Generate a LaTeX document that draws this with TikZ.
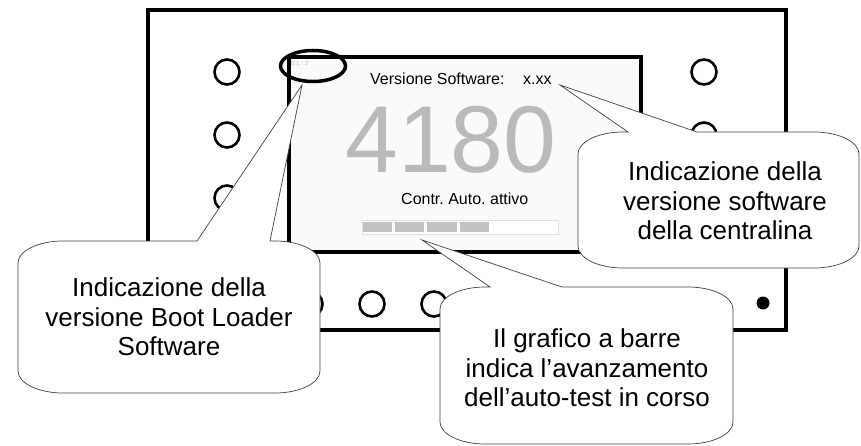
\documentclass[tikz,border=0pt]{standalone}
\usepackage{fontspec}
\setmainfont{Liberation Sans}
\usetikzlibrary{shapes,positioning}
\frenchspacing

\begin{document}
\begin{tikzpicture}[x=1pt, y=-1pt,
  knob/.style={circle, draw, line width=2.6pt, minimum size=25pt, inner sep=0pt},
  bubble/.style={draw=black!75, line width=0.7pt, fill=white},
  note/.style={font=\fontsize{26}{29.5}\selectfont, align=center},
  lcd/.style={font=\fontsize{16}{19}\selectfont, anchor=base west, inner sep=0pt},
  seg/.style={fill=black!24}
]
  \useasboundingbox (0,0) rectangle (861,446);
  % Panel
  \draw[line width=4.5pt] (148,10) rectangle (786,330);
  % Buttons
  \node[knob] (l1) at (227,72) {};
  \node[knob] (l2) at (227,135) {};
  \node[knob] (l3) at (227,198) {};
  \node[knob] (r1) at (704,72) {};
  \node[knob] (r2) at (704,135) {};
  \node[knob] (b1) at (310,304) {};
  \node[knob] (b2) at (372,304) {};
  \node[knob] (b3) at (434,304) {};
  \node[circle, fill, minimum size=13pt, inner sep=0pt] (led) at (763,303) {};
  % Screen
  \draw[line width=3.5pt, fill=black!2] (289,57) rectangle (641,252);
  \node[lcd, font=\fontsize{6}{7}\selectfont, text=black!25] (bl) at (291,66) {B L : 2};
  \node[lcd] (title) at (370,85) {Versione Software:};
  \node[lcd] (ver) at (523,85) {x.xx};
  \node[font=\fontsize{95}{95}\selectfont, text=black!27, anchor=base, inner sep=0pt] (count) at (451,173) {4180};
  \node[lcd] (status) at (401,205) {Contr. Auto. attivo};
  % Bar graph
  \draw[black!12, fill=white] (362,220) rectangle (558,234);
  \fill[seg] (363,222) rectangle (392,232);
  \fill[seg] (395,222) rectangle (424,232);
  \fill[seg] (427,222) rectangle (457,232);
  \fill[seg] (460,222) rectangle (489,232);
  % Boot loader mark
  \node[ellipse, draw, line width=3.5pt, minimum width=65pt, minimum height=31pt] (blmark) at (313,66) {};
  \coordinate (bltip) at (302,85);
  \coordinate (swtip) at (560,85);
  \coordinate (bartip) at (422,240);
  % Callout boot loader
  \draw[bubble] (63,241) -- (197,241) -- (bltip) -- (270,241) -- (275,241)
    .. controls (300,241) and (320,251) .. (320,263) -- (320,371)
    .. controls (320,383) and (300,393) .. (275,393) -- (63,393)
    .. controls (38,393) and (18,383) .. (18,371) -- (18,263)
    .. controls (18,251) and (38,241) .. (63,241) -- cycle;
  \node[note] (bltext) at (169,317) {Indicazione della\\versione Boot Loader\\Software};
  % Callout software
  \draw[bubble] (623,132) -- (628,132) -- (swtip) -- (697,132) -- (814,132)
    .. controls (839,132) and (859,142) .. (859,154) -- (859,246)
    .. controls (859,258) and (839,268) .. (814,268) -- (623,268)
    .. controls (598,268) and (578,258) .. (578,246) -- (578,154)
    .. controls (578,142) and (598,132) .. (623,132) -- cycle;
  \node[note] (swtext) at (725,201) {Indicazione della\\versione software\\della centralina};
  % Callout bar graph
  \draw[bubble] (485,287) -- (490,287) -- (bartip) -- (562,287) -- (688,287)
    .. controls (713,287) and (733,297) .. (733,309) -- (733,422)
    .. controls (733,434) and (713,444) .. (688,444) -- (485,444)
    .. controls (460,444) and (440,434) .. (440,422) -- (440,309)
    .. controls (440,297) and (460,287) .. (485,287) -- cycle;
  \node[note] (bartext) at (587,368) {Il grafico a barre\\indica l’avanzamento\\dell’auto-test in corso};
\end{tikzpicture}
\end{document}
